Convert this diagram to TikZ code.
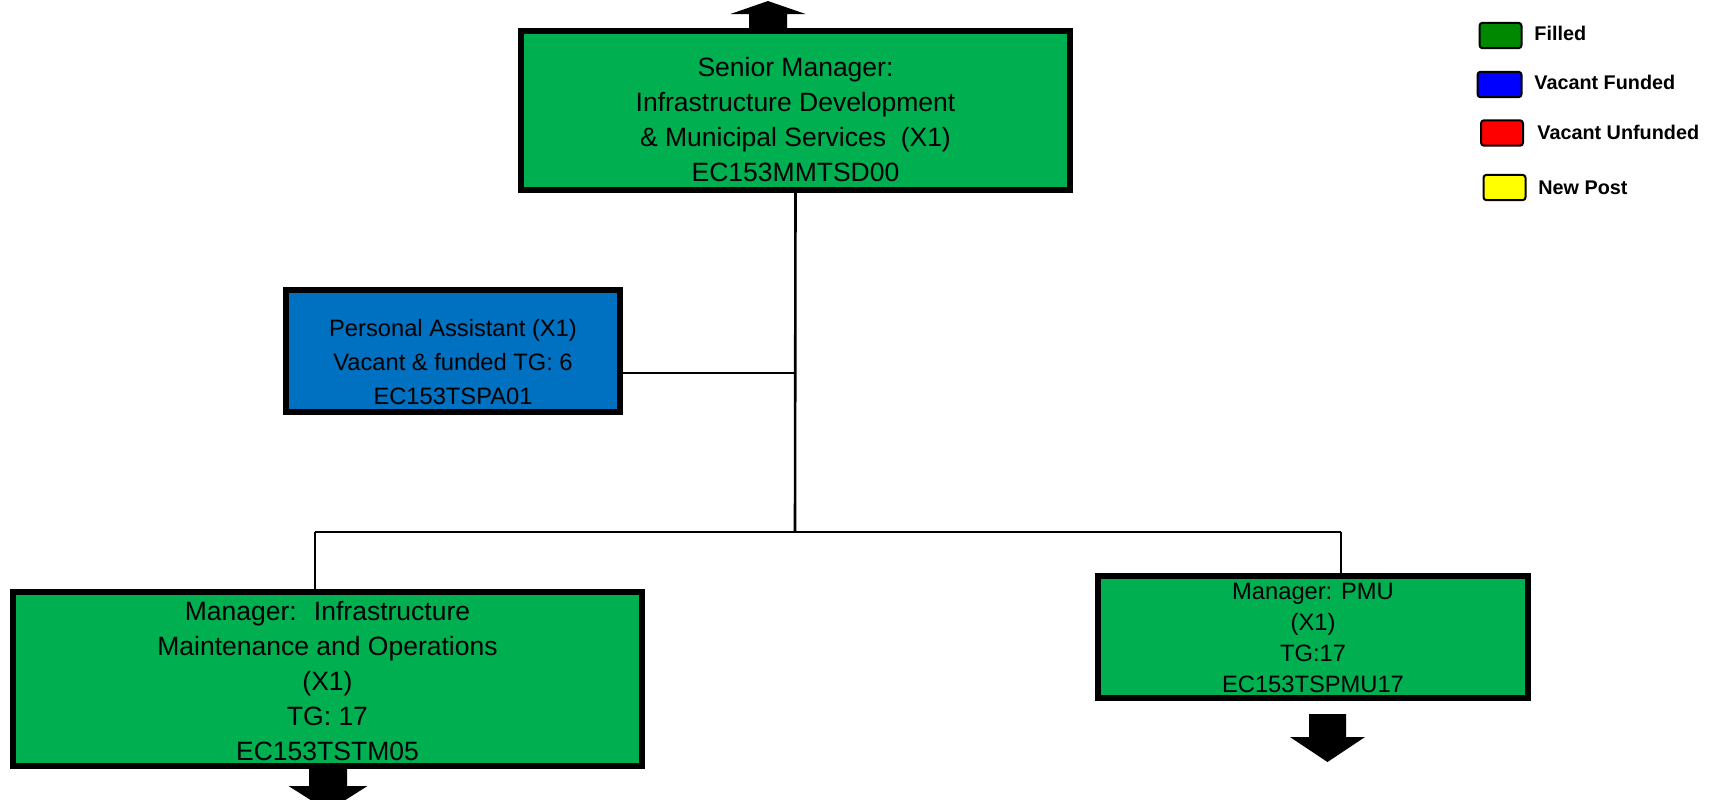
\documentclass[tikz,border=0pt]{standalone}
\usepackage{fontspec}
\setmainfont{Liberation Sans}
\usetikzlibrary{calc}
\definecolor{boxgreen}{RGB}{0,176,80}
\definecolor{boxblue}{RGB}{0,112,192}
\definecolor{leggreen}{RGB}{0,136,0}
\definecolor{legblue}{RGB}{0,0,255}
\definecolor{legred}{RGB}{255,0,0}
\definecolor{legyellow}{RGB}{255,255,0}
\tikzset{
  postbox/.style={draw=black, line width=3pt, rectangle, inner sep=0pt},
  bigtxt/.style={align=center, inner sep=0pt, font=\fontsize{13.25}{17.5}\selectfont},
  midtxt/.style={align=center, inner sep=0pt, font=\fontsize{11.85}{17}\selectfont},
  smalltxt/.style={align=center, inner sep=0pt, font=\fontsize{11.85}{15.4}\selectfont},
  conn/.style={draw=black, line width=1.3pt},
  legbox/.style={draw=black, line width=1pt, rounded corners=1.5pt, rectangle, inner sep=0pt, minimum width=21pt, minimum height=12.7pt},
  legtxt/.style={anchor=west, inner sep=0pt, font=\fontsize{9.9}{12}\selectfont\bfseries},
  blockarrow/.style={fill=black}
}
\begin{document}
\begin{tikzpicture}[x=0.5pt,y=-0.5pt]
\useasboundingbox (0,0) rectangle (1725,799);

% boxes
\node[postbox, fill=boxgreen, minimum width=274.5pt, minimum height=79.5pt] (top) at (795.5,110.5) {};
\node[bigtxt] (topt) at ($(top.center)+(0,9)$) {Senior Manager:\\Infrastructure Development\\\& Municipal Services~ (X1)\\EC153MMTSD00};

\node[postbox, fill=boxblue, minimum width=167pt, minimum height=61pt] (pa) at (453,351) {};
\node[midtxt] (pat) at ($(pa.center)+(0,11)$) {Personal Assistant (X1)\\Vacant \& funded TG: 6\\EC153TSPA01};

\node[postbox, fill=boxgreen, minimum width=314.5pt, minimum height=87pt] (left) at (327.5,679) {};
\node[bigtxt] (leftt) at ($(left.center)+(0,2)$) {Manager:~ Infrastructure\\Maintenance and Operations\\(X1)\\TG: 17\\EC153TSTM05};

\node[postbox, fill=boxgreen, minimum width=215pt, minimum height=61pt] (right) at (1313,637) {};
\node[smalltxt] (rightt) at ($(right.center)+(0,1)$) {Manager: PMU\\(X1)\\TG:17\\EC153TSPMU17};

% connectors
\coordinate (bus) at (795,532);
\coordinate (bl) at (315,532);
\coordinate (br) at (1341,532);
\coordinate (pajoin) at ($(pa.east)+(0,22)$);
\draw[conn] (top.south) -- (bus);
\draw[conn] (pajoin) -- (pajoin -| bus);
\draw[conn] (bl) -- (br);
\draw[conn] (bl) -- (bl |- left.north);
\draw[conn] (br) -- (br |- right.north);

% block arrows
\fill[blockarrow] ($(top.north)+(-46.5,0)$) -- ++(0,-14) -- ++(-18.5,0) -- ++(37.5,-13) -- ++(37.5,13) -- ++(-18.5,0) -- ++(0,14) -- cycle;
\fill[blockarrow] ($(left.south)+(-18.5,0)$) -- ++(0,17) -- ++(-20.5,0) -- ++(39.5,25) -- ++(39.5,-25) -- ++(-20.5,0) -- ++(0,-17) -- cycle;
\fill[blockarrow] (1309,714) -- (1309,737) -- (1290,737) -- (1327.5,762) -- (1365,737) -- (1346,737) -- (1346,714) -- cycle;

% legend
\node[legbox, fill=leggreen] (lg1) at (1500.5,35.5) {};
\node[legtxt] (lt1) at (1534,33) {Filled};
\node[legbox, fill=legblue, minimum width=22pt] (lg2) at (1499.5,84.5) {};
\node[legtxt] (lt2) at (1534,82) {Vacant Funded};
\node[legbox, fill=legred] (lg3) at (1502,133) {};
\node[legtxt] (lt3) at (1537,132) {Vacant Unfunded};
\node[legbox, fill=legyellow] (lg4) at (1504.5,187.5) {};
\node[legtxt] (lt4) at (1538,188) {New Post};
\end{tikzpicture}
\end{document}
